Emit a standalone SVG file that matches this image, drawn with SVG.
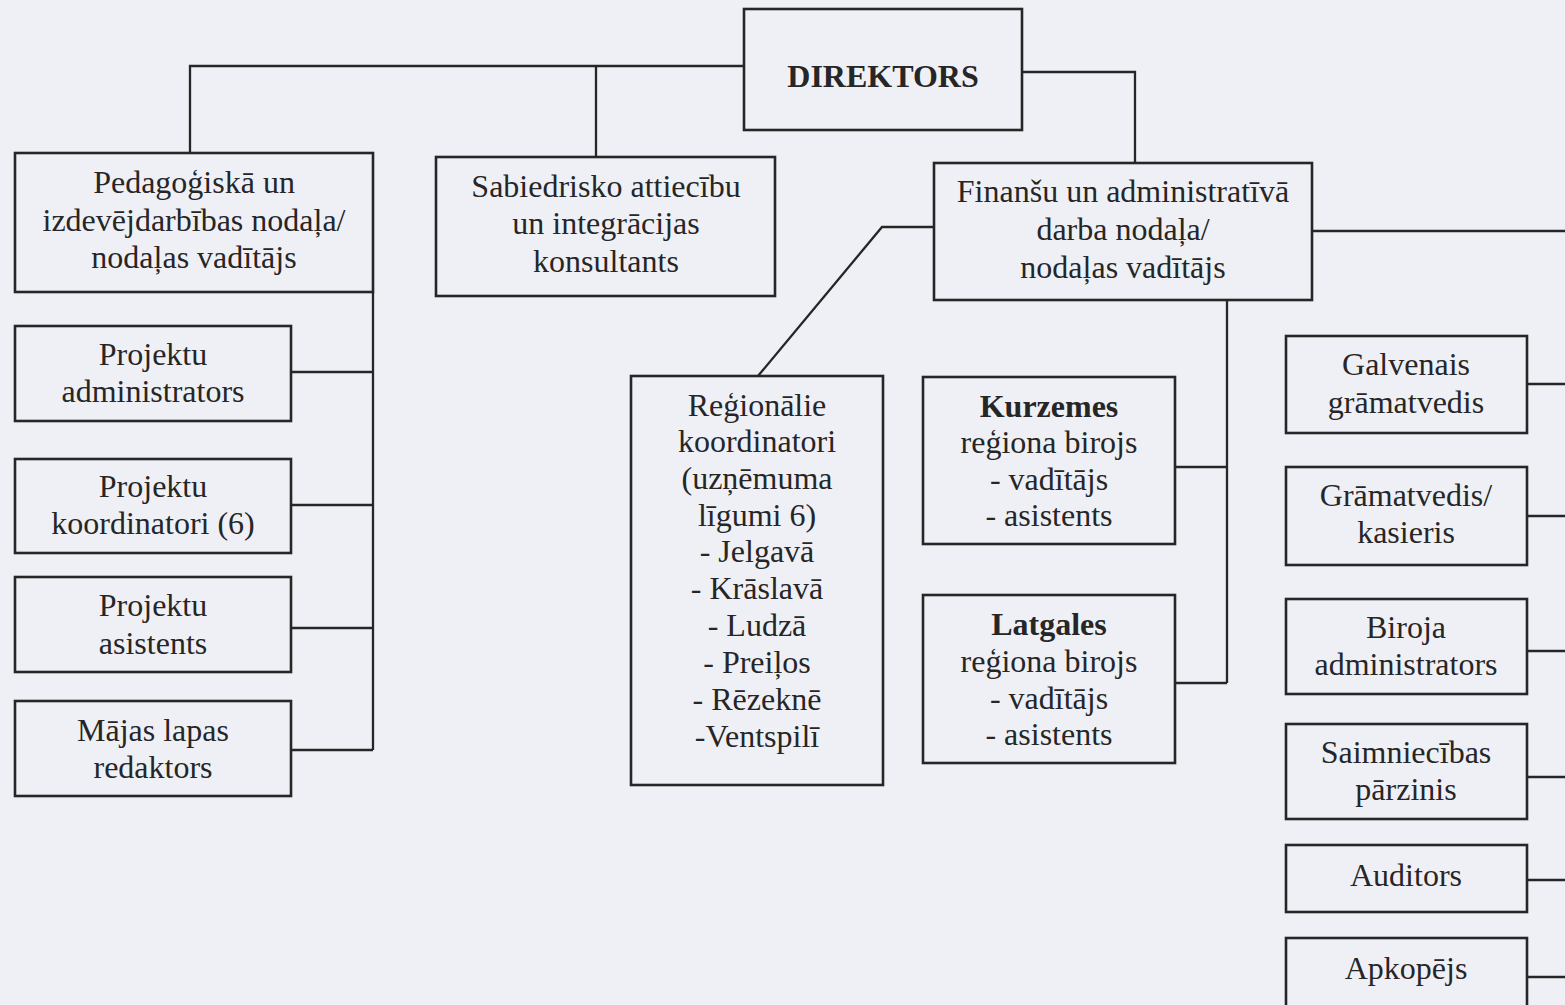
<svg xmlns="http://www.w3.org/2000/svg" width="1565" height="1005" viewBox="0 0 1565 1005">
<style>
.bg{fill:#eff0f6}
.box{fill:none;stroke:#262626;stroke-width:2.6}
.ln{fill:none;stroke:#262626;stroke-width:2.3}
text{font-family:"Liberation Serif","Times New Roman",serif;font-size:32px;fill:#262626;text-anchor:middle}
.b{font-weight:bold}
</style>
<rect class="bg" x="0" y="0" width="1565" height="1005"/>
<g id="connectors">
<polyline class="ln" points="744,66 190,66 190,152"/>
<line class="ln" x1="596" y1="66" x2="596" y2="157"/>
<polyline class="ln" points="1022,72 1135,72 1135,163"/>
<line class="ln" x1="373" y1="292" x2="373" y2="750"/>
<line class="ln" x1="291" y1="372" x2="373" y2="372"/>
<line class="ln" x1="291" y1="505" x2="373" y2="505"/>
<line class="ln" x1="291" y1="628" x2="373" y2="628"/>
<line class="ln" x1="291" y1="750" x2="373" y2="750"/>
<polyline class="ln" points="934,227 882,227 758,376"/>
<line class="ln" x1="1227" y1="300" x2="1227" y2="683"/>
<line class="ln" x1="1175" y1="467" x2="1227" y2="467"/>
<line class="ln" x1="1175" y1="683" x2="1227" y2="683"/>
<line class="ln" x1="1312" y1="231" x2="1565" y2="231"/>
<line class="ln" x1="1527" y1="384" x2="1565" y2="384"/>
<line class="ln" x1="1527" y1="516" x2="1565" y2="516"/>
<line class="ln" x1="1527" y1="651" x2="1565" y2="651"/>
<line class="ln" x1="1527" y1="777" x2="1565" y2="777"/>
<line class="ln" x1="1527" y1="880" x2="1565" y2="880"/>
<line class="ln" x1="1527" y1="977" x2="1565" y2="977"/>
</g>
<g id="direktors">
<rect class="box" x="744" y="9" width="278" height="121"/>
<text class="b" x="883" y="87">DIREKTORS</text>
</g>
<g id="pedagogiska">
<rect class="box" x="15" y="153" width="358" height="139"/>
<text x="194" y="193">Pedagoģiskā un</text>
<text x="194" y="231">izdevējdarbības nodaļa/</text>
<text x="194" y="268">nodaļas vadītājs</text>
</g>
<g id="sabiedrisko">
<rect class="box" x="436" y="157" width="339" height="139"/>
<text x="606" y="197">Sabiedrisko attiecību</text>
<text x="606" y="234">un integrācijas</text>
<text x="606" y="272">konsultants</text>
</g>
<g id="finansu">
<rect class="box" x="934" y="163" width="378" height="137"/>
<text x="1123" y="202">Finanšu un administratīvā</text>
<text x="1123" y="240">darba nodaļa/</text>
<text x="1123" y="278">nodaļas vadītājs</text>
</g>
<g id="proj-admin">
<rect class="box" x="15" y="326" width="276" height="95"/>
<text x="153" y="365">Projektu</text>
<text x="153" y="402">administrators</text>
</g>
<g id="proj-koord">
<rect class="box" x="15" y="459" width="276" height="94"/>
<text x="153" y="497">Projektu</text>
<text x="153" y="534">koordinatori (6)</text>
</g>
<g id="proj-asist">
<rect class="box" x="15" y="577" width="276" height="95"/>
<text x="153" y="616">Projektu</text>
<text x="153" y="654">asistents</text>
</g>
<g id="majas-lapas">
<rect class="box" x="15" y="701" width="276" height="95"/>
<text x="153" y="741">Mājas lapas</text>
<text x="153" y="778">redaktors</text>
</g>
<g id="regionalie">
<rect class="box" x="631" y="376" width="252" height="409"/>
<text x="757" y="416">Reģionālie</text>
<text x="757" y="452">koordinatori</text>
<text x="757" y="489">(uzņēmuma</text>
<text x="757" y="526">līgumi 6)</text>
<text x="757" y="562">- Jelgavā</text>
<text x="757" y="599">- Krāslavā</text>
<text x="757" y="636">- Ludzā</text>
<text x="757" y="673">- Preiļos</text>
<text x="757" y="710">- Rēzeknē</text>
<text x="757" y="747">-Ventspilī</text>
</g>
<g id="kurzemes">
<rect class="box" x="923" y="377" width="252" height="167"/>
<text class="b" x="1049" y="417">Kurzemes</text>
<text x="1049" y="453">reģiona birojs</text>
<text x="1049" y="490">- vadītājs</text>
<text x="1049" y="526">- asistents</text>
</g>
<g id="latgales">
<rect class="box" x="923" y="595" width="252" height="168"/>
<text class="b" x="1049" y="635">Latgales</text>
<text x="1049" y="672">reģiona birojs</text>
<text x="1049" y="709">- vadītājs</text>
<text x="1049" y="745">- asistents</text>
</g>
<g id="galvenais">
<rect class="box" x="1286" y="336" width="241" height="97"/>
<text x="1406" y="375">Galvenais</text>
<text x="1406" y="413">grāmatvedis</text>
</g>
<g id="gramatvedis">
<rect class="box" x="1286" y="467" width="241" height="98"/>
<text x="1406" y="506">Grāmatvedis/</text>
<text x="1406" y="543">kasieris</text>
</g>
<g id="biroja">
<rect class="box" x="1286" y="599" width="241" height="95"/>
<text x="1406" y="638">Biroja</text>
<text x="1406" y="675">administrators</text>
</g>
<g id="saimniecibas">
<rect class="box" x="1286" y="724" width="241" height="95"/>
<text x="1406" y="763">Saimniecības</text>
<text x="1406" y="800">pārzinis</text>
</g>
<g id="auditors">
<rect class="box" x="1286" y="845" width="241" height="67"/>
<text x="1406" y="886">Auditors</text>
</g>
<g id="apkopejs">
<rect class="box" x="1286" y="938" width="241" height="70"/>
<text x="1406" y="979">Apkopējs</text>
</g>
</svg>
